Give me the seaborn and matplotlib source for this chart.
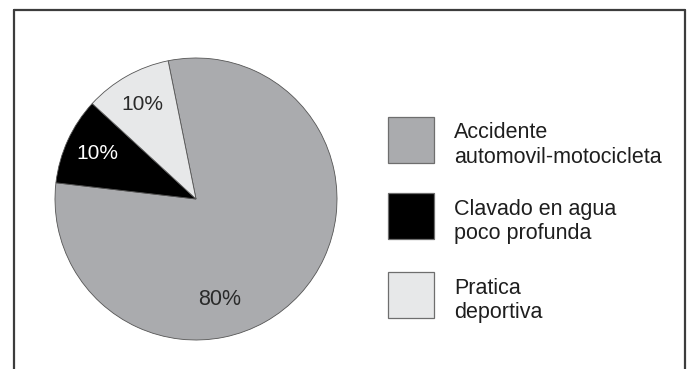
import matplotlib
matplotlib.use("Agg")
import matplotlib.pyplot as plt
from matplotlib.patches import Rectangle
from matplotlib.lines import Line2D
import numpy as np
import seaborn as sns

# ---- data ----
categories = ["Accidente\nautomovil-motocicleta",
              "Clavado en agua\npoco profunda",
              "Pratica\ndeportiva"]
values = [80, 10, 10]
pct_labels = ["80%", "10%", "10%"]
colors = ["#aaabae", "#000000", "#e7e8e9"]
label_colors = ["#2a2a2a", "#ffffff", "#2a2a2a"]

sns.set_theme(style="white")
plt.rcParams["font.family"] = ["Liberation Sans", "DejaVu Sans"]

W, H = 693, 369
fig = plt.figure(figsize=(W / 100, H / 100), dpi=100)
fig.patch.set_facecolor("white")

# pie axes: center (196,199) px, radius 141 px
cx, cy, r = 196, 199, 141
ax = fig.add_axes([(cx - r) / W, (H - cy - r) / H, 2 * r / W, 2 * r / H])
wedges, _ = ax.pie(values, colors=colors, startangle=101.4, counterclock=False,
                   radius=1.0,
                   wedgeprops=dict(edgecolor="#555555", linewidth=0.6))
ax.set_xlim(-1, 1)
ax.set_ylim(-1, 1)
ax.set_aspect("equal")
ax.axis("off")

# percentage labels placed along each wedge
start = 101.4
total = sum(values)
angle = start
for i, v in enumerate(values):
    span = 360 * v / total
    mid = angle - span / 2
    angle -= span
    if i == 0:
        mid, dist, fs = -76.5, 0.73, 15.5
    else:
        dist, fs = 0.77, 15
    x = dist * np.cos(np.radians(mid))
    y = dist * np.sin(np.radians(mid))
    ax.text(x, y, pct_labels[i], ha="center", va="center",
            fontsize=fs, color=label_colors[i])

# legend (drawn as patches + text in figure pixel space)
box_left, box_size, text_left = 388, 46, 454
box_tops = [117, 193, 272]
for c, lab, top in zip(colors, categories, box_tops):
    fig.add_artist(Rectangle((box_left / W, 1 - (top + box_size) / H),
                             box_size / W, box_size / H,
                             transform=fig.transFigure, facecolor=c,
                             edgecolor="#6e6e6e", linewidth=0.9))
    for j, line in enumerate(lab.split("\n")):
        base = top + 21.5 + j * 24.5
        fig.text(text_left / W, 1 - base / H, line, ha="left", va="baseline",
                 fontsize=15.5, color="#1e1e1e")

# frame (no bottom edge)
lc = "#3c3c3c"
fig.add_artist(Line2D([14 / W, 14 / W], [0, 1 - 9.5 / H], transform=fig.transFigure,
                      color=lc, linewidth=1.6))
fig.add_artist(Line2D([14 / W, 685 / W], [1 - 9.5 / H, 1 - 9.5 / H], transform=fig.transFigure,
                      color=lc, linewidth=1.6))
fig.add_artist(Line2D([685 / W, 685 / W], [1 - 9.5 / H, 0], transform=fig.transFigure,
                      color=lc, linewidth=1.6))

fig.savefig("out.png", dpi=100)
